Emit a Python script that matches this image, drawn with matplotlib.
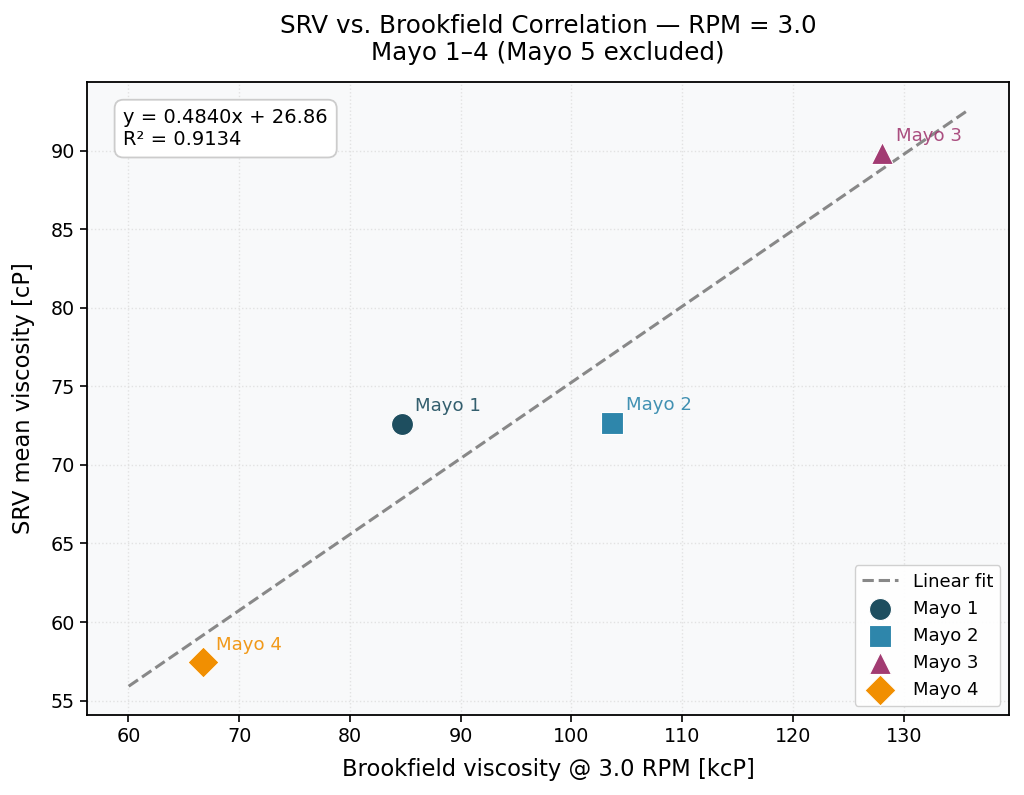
import numpy as np
import matplotlib
matplotlib.use("Agg")
import matplotlib.pyplot as plt

# ── Data ─────────────────────────────────────────────────────────────────────
labels     = ["Mayo 1", "Mayo 2", "Mayo 3", "Mayo 4"]
brookfield = [84.66, 103.67, 128.06, 66.69]     # kcP @ 3.0 RPM
srv_mean   = [72.64, 72.70, 89.85, 57.43]       # cP
markers    = ["o", "s", "^", "D"]
colors     = ["#1E4E5F", "#2E86AB", "#A23B72", "#F18F01"]

fit_slope     = 0.4840
fit_intercept = 26.86
fit_r2        = 0.9134

# ── Plot ─────────────────────────────────────────────────────────────────────
fig, ax = plt.subplots(figsize=(10.24, 7.95), dpi=100)
fig.subplots_adjust(left=0.0847, right=0.9856, top=0.897, bottom=0.1006)
ax.set_facecolor("#F8F9FA")

x_line = np.linspace(min(brookfield) * 0.9, max(brookfield) * 1.06, 100)
ax.plot(x_line, fit_slope * x_line + fit_intercept, "--", color="#888888",
        lw=2.2, label="Linear fit", zorder=2)

for lab, xv, yv, m, c in zip(labels, brookfield, srv_mean, markers, colors):
    ax.scatter(xv, yv, s=250, marker=m, color=c, edgecolor="white",
               linewidth=0.8, label=lab, zorder=3)
    ax.annotate(lab, (xv, yv), xytext=(10, 6), textcoords="offset points",
                ha="left", va="bottom", fontsize=13.1, color=c, alpha=0.9)

ax.text(0.0397, 0.958,
        f"y = {fit_slope:.4f}x + {fit_intercept:.2f}\nR² = {fit_r2:.4f}",
        transform=ax.transAxes, ha="left", va="top", fontsize=14,
        linespacing=1.15,
        bbox=dict(boxstyle="round,pad=0.45", facecolor="white",
                  edgecolor="#CCCCCC", linewidth=1.3))

ax.grid(True, linestyle=":", color="#E2E2E2", linewidth=1.0, zorder=0)
ax.set_axisbelow(True)
ax.tick_params(labelsize=13.8, width=1.2, length=5)
for sp in ax.spines.values():
    sp.set_linewidth(1.3)

ax.set_xlabel("Brookfield viscosity @ 3.0 RPM [kcP]", fontsize=16.3,
              labelpad=9)
ax.set_ylabel("SRV mean viscosity [cP]", fontsize=16.3, labelpad=11)
ax.set_title("SRV vs. Brookfield Correlation — RPM = 3.0\n"
             "Mayo 1–4 (Mayo 5 excluded)", fontsize=17.7, pad=16,
             linespacing=1.15)

leg = ax.legend(loc="lower right", fontsize=13, framealpha=0.9,
                edgecolor="#CCCCCC")

fig.savefig("out.png", dpi=100)
plt.close()
